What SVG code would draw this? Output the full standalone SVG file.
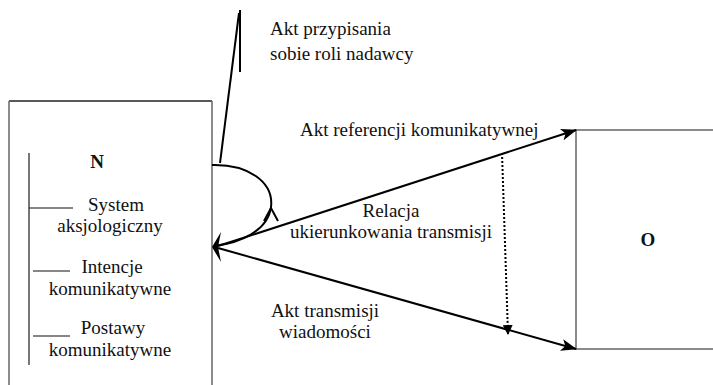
<svg xmlns="http://www.w3.org/2000/svg" width="713" height="385" viewBox="0 0 713 385">
<defs>
<marker id="ah" markerWidth="16" markerHeight="12" refX="15" refY="6" orient="auto" markerUnits="userSpaceOnUse">
<path d="M0,0 L16,6 L0,12 L4,6 Z" fill="#000"/>
</marker>
<marker id="ahs" markerWidth="10" markerHeight="10" refX="9" refY="5" orient="auto" markerUnits="userSpaceOnUse">
<path d="M0,0 L10,5 L0,10 Z" fill="#000"/>
</marker>
</defs>
<style>
text{font-family:"Liberation Serif","Times New Roman",serif;font-size:19px;fill:#111}
.b{font-weight:bold;font-size:19px}
.box{fill:none;stroke:#666;stroke-width:1.5}
.ln{fill:none;stroke:#000;stroke-width:2}
.tk{stroke:#111;stroke-width:1.2}
</style>
<g id="N">
<line x1="9" y1="101" x2="212" y2="101" stroke="#222" stroke-width="1.5"/>
<line x1="9" y1="101" x2="9" y2="385" class="box"/>
<line x1="212" y1="101" x2="212" y2="385" class="box"/>
<line x1="29" y1="153" x2="29" y2="365" stroke="#777" stroke-width="2"/>
<text x="97" y="168" text-anchor="middle" class="b">N</text>
<line x1="29" y1="208" x2="73" y2="208" class="tk"/>
<text x="116" y="211" text-anchor="middle">System</text>
<text x="110" y="232" text-anchor="middle">aksjologiczny</text>
<line x1="33" y1="271" x2="70" y2="271" class="tk"/>
<text x="112" y="273" text-anchor="middle">Intencje</text>
<text x="110" y="295" text-anchor="middle">komunikatywne</text>
<line x1="33" y1="336" x2="70" y2="336" class="tk"/>
<text x="113" y="334" text-anchor="middle">Postawy</text>
<text x="110" y="356" text-anchor="middle">komunikatywne</text>
</g>
<g id="O">
<polyline points="713,130 576,130 576,349 713,349" class="box"/>
<text x="648" y="246" text-anchor="middle" class="b">O</text>
</g>
<g id="connectors">
<line x1="240" y1="10" x2="240" y2="72" class="ln"/>
<line x1="239" y1="13" x2="220" y2="163" class="ln"/>
<path d="M212,165 C248,164 274,182 271,207 C268,231 240,243 214,246" class="ln"/>
<polyline points="264,221 271,208 278,221" class="ln" stroke-width="1.8"/>
<line x1="218" y1="246" x2="576" y2="130" class="ln" marker-end="url(#ah)"/>
<line x1="218" y1="248" x2="576" y2="349" class="ln" marker-end="url(#ah)"/>
<path d="M212,247 L221,232 L218,247 L221,262 Z" fill="#000"/>
<line x1="502" y1="153" x2="508" y2="334" stroke="#000" stroke-width="2" stroke-dasharray="2,2" marker-end="url(#ahs)"/>
</g>
<g id="labels">
<text x="270" y="35">Akt przypisania</text>
<text x="270" y="60">sobie roli nadawcy</text>
<text x="300" y="136">Akt referencji komunikatywnej</text>
<text x="391" y="217" text-anchor="middle">Relacja</text>
<text x="391" y="238" text-anchor="middle">ukierunkowania transmisji</text>
<text x="325" y="317" text-anchor="middle">Akt transmisji</text>
<text x="325" y="338" text-anchor="middle">wiadomości</text>
</g>
</svg>
